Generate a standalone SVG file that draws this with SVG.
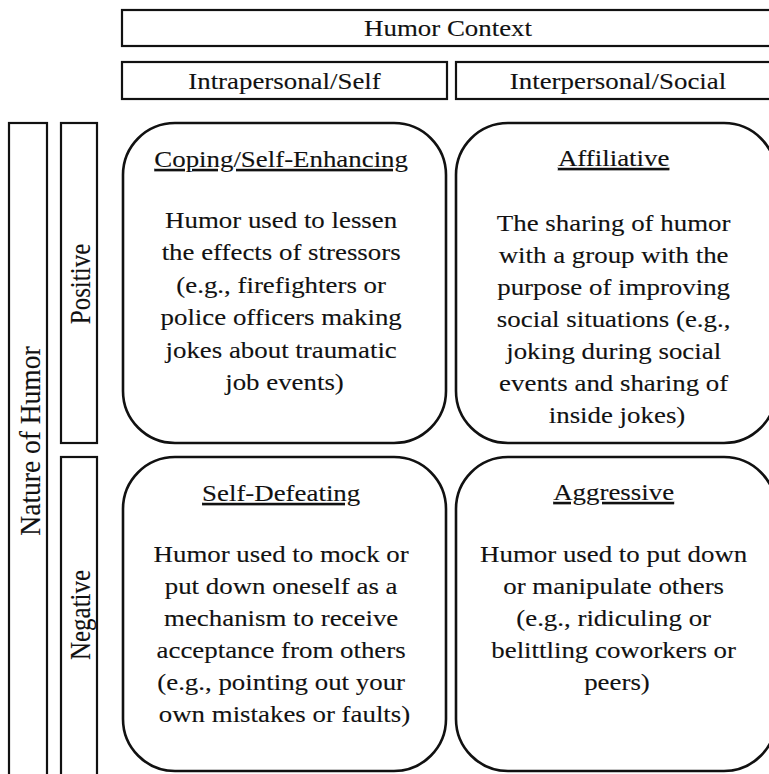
<svg xmlns="http://www.w3.org/2000/svg" width="769" height="774" viewBox="0 0 769 774">
  <style>
    .bg { fill: #ffffff; }
    .box { fill: #ffffff; stroke: #111111; stroke-width: 2.2; }
    .card { fill: #ffffff; stroke: #111111; stroke-width: 2.6; }
    .t { font-family: "Liberation Serif", "Times New Roman", serif; font-size: 24px; fill: #111111; stroke: #111111; stroke-width: 0.12; text-anchor: middle; }
    .ttl { text-decoration: underline; }
    .vl { font-family: "Liberation Serif", "Times New Roman", serif; font-size: 25px; fill: #111111; stroke: #111111; stroke-width: 0.12; text-anchor: middle; }
  </style>
  <rect class="bg" x="0" y="0" width="769" height="774"/>

  <!-- column headers -->
  <g id="humor-context">
    <rect class="box" x="122" y="10" width="654" height="36"/>
    <text class="t" transform="translate(448 0) scale(1.12 1)"><tspan x="0" y="36">Humor Context</tspan></text>
  </g>
  <g id="intrapersonal">
    <rect class="box" x="122" y="62" width="325" height="37"/>
    <text class="t" transform="translate(284.5 0) scale(1.12 1)"><tspan x="0" y="89">Intrapersonal/Self</tspan></text>
  </g>
  <g id="interpersonal">
    <rect class="box" x="456" y="62" width="320" height="37"/>
    <text class="t" transform="translate(618 0) scale(1.12 1)"><tspan x="0" y="89">Interpersonal/Social</tspan></text>
  </g>

  <!-- row headers -->
  <g id="nature-of-humor">
    <rect class="box" x="9" y="123" width="38" height="660"/>
    <text class="vl" style="font-size:27.5px" transform="translate(39.5 441) scale(1.1 1) rotate(-90)"><tspan x="0" y="0">Nature of Humor</tspan></text>
  </g>
  <g id="positive">
    <rect class="box" x="61" y="123" width="36" height="320"/>
    <text class="vl" transform="translate(89.5 284) scale(1.2 1) rotate(-90)"><tspan x="0" y="0">Positive</tspan></text>
  </g>
  <g id="negative">
    <rect class="box" x="61" y="457" width="36" height="326"/>
    <text class="vl" transform="translate(89.5 615) scale(1.2 1) rotate(-90)"><tspan x="0" y="0">Negative</tspan></text>
  </g>

  <!-- humor style cards -->
  <g id="coping-self-enhancing">
    <rect class="card" x="123" y="123" width="323" height="320" rx="52" ry="52"/>
    <text class="t" transform="translate(284.5 0) scale(1.12 1)">
      <tspan class="ttl" x="0" y="167">Coping/Self-Enhancing</tspan>
      <tspan x="0" y="228">Humor used to lessen</tspan>
      <tspan x="0" y="260.5">the effects of stressors</tspan>
      <tspan x="0" y="293">(e.g., firefighters or</tspan>
      <tspan x="0" y="325.5">police officers making</tspan>
      <tspan x="0" y="358">jokes about traumatic</tspan>
      <tspan x="0" y="390.5">job events)</tspan>
    </text>
  </g>
  <g id="affiliative">
    <rect class="card" x="456" y="123" width="320" height="320" rx="52" ry="52"/>
    <text class="t" transform="translate(617 0) scale(1.12 1)">
      <tspan class="ttl" x="0" y="166">Affiliative</tspan>
      <tspan x="0" y="231">The sharing of humor</tspan>
      <tspan x="0" y="263">with a group with the</tspan>
      <tspan x="0" y="295">purpose of improving</tspan>
      <tspan x="0" y="327">social situations (e.g.,</tspan>
      <tspan x="0" y="359">joking during social</tspan>
      <tspan x="0" y="391">events and sharing of</tspan>
      <tspan x="0" y="423">inside jokes)</tspan>
    </text>
  </g>
  <g id="self-defeating">
    <rect class="card" x="123" y="457" width="323" height="314" rx="52" ry="52"/>
    <text class="t" transform="translate(284.5 0) scale(1.12 1)">
      <tspan class="ttl" x="0" y="501">Self-Defeating</tspan>
      <tspan x="0" y="562">Humor used to mock or</tspan>
      <tspan x="0" y="594">put down oneself as a</tspan>
      <tspan x="0" y="626">mechanism to receive</tspan>
      <tspan x="0" y="658">acceptance from others</tspan>
      <tspan x="0" y="690">(e.g., pointing out your</tspan>
      <tspan x="0" y="722">own mistakes or faults)</tspan>
    </text>
  </g>
  <g id="aggressive">
    <rect class="card" x="456" y="457" width="320" height="314" rx="52" ry="52"/>
    <text class="t" transform="translate(617 0) scale(1.12 1)">
      <tspan class="ttl" x="0" y="500">Aggressive</tspan>
      <tspan x="0" y="562">Humor used to put down</tspan>
      <tspan x="0" y="594">or manipulate others</tspan>
      <tspan x="0" y="626">(e.g., ridiculing or</tspan>
      <tspan x="0" y="658">belittling coworkers or</tspan>
      <tspan x="0" y="690">peers)</tspan>
    </text>
  </g>

  <!-- no connectors in this layout -->
  <g id="connectors"/>
</svg>
